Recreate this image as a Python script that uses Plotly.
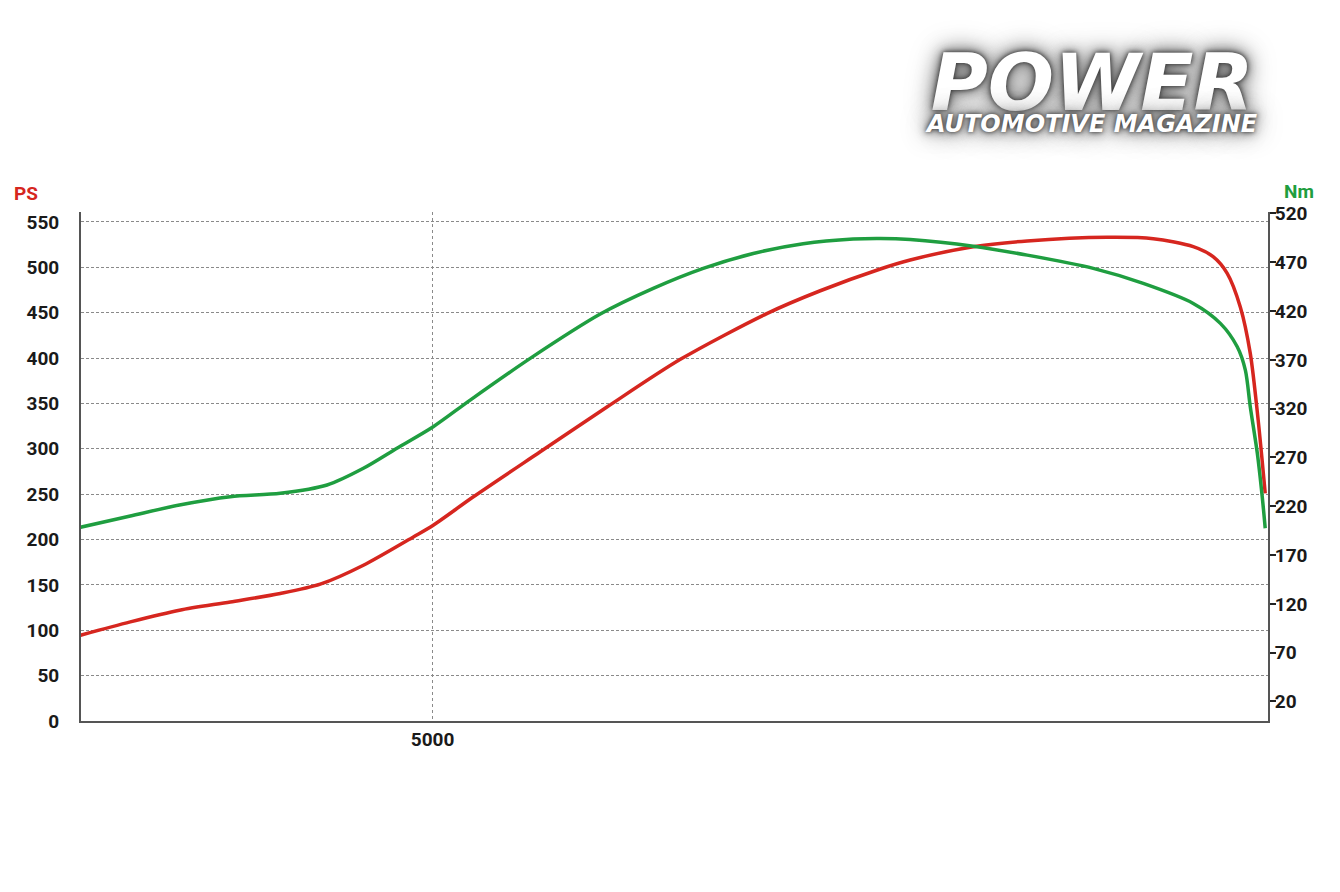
import plotly.graph_objects as go

# ---- data ----
rpm_power = [3351, 3585, 3815, 4053, 4287, 4474, 4676, 4910, 5003, 5191, 5504, 5818,
             6160, 6567, 6815, 7096, 7236, 7531, 7784, 8158, 8374, 8561, 8654, 8720,
             8781, 8828, 8865, 8898]
power_ps = [94.5, 109.2, 122.1, 131.2, 140.5, 150.8, 171.7, 202.9, 215.8, 247.1, 296.7, 346.3,
            398.6, 449.3, 474.2, 498.2, 508.1, 522.8, 529.1, 533.1, 531.6, 522.8, 511.7, 493.4,
            456.6, 405.2, 331.6, 250.8]

rpm_torque = [3351, 3585, 3815, 4053, 4287, 4506, 4676, 4833, 5003, 5176, 5457, 5785,
              6033, 6267, 6501, 6735, 6969, 7096, 7236, 7531, 7784, 8093, 8327, 8561,
              8688, 8767, 8805, 8828, 8861, 8884, 8898]
torque_nm = [198.5, 210.1, 221.3, 229.8, 233.3, 241.8, 258.9, 279.4, 301.5, 328.8, 371.5, 416.9,
             443.2, 463.7, 479.0, 489.0, 493.8, 494.4, 493.3, 486.5, 477.3, 463.7, 448.3, 427.8,
             407.4, 383.4, 359.5, 322.0, 274.3, 229.8, 197.5]

ps_ticks = [0, 50, 100, 150, 200, 250, 300, 350, 400, 450, 500, 550]
nm_ticks = [20, 70, 120, 170, 220, 270, 320, 370, 420, 470, 520]
rpm_ticks = [5000]

RED = "#d6261f"
GREEN = "#1f9e40"
AXIS = "#555555"
GRID = "#8a8a8a"
FAM = "Roboto, Liberation Sans, sans-serif"
TICKFONT = dict(family=FAM, size=19, color="#1a1a1a", weight="bold")

fig = go.Figure()
fig.add_trace(go.Scatter(x=rpm_torque, y=torque_nm, mode="lines", yaxis="y2",
                         line=dict(color=GREEN, width=3.5, shape="spline", smoothing=0.8),
                         name="Nm", showlegend=False))
fig.add_trace(go.Scatter(x=rpm_power, y=power_ps, mode="lines", yaxis="y",
                         line=dict(color=RED, width=3.5, shape="spline", smoothing=0.8),
                         name="PS", showlegend=False))

logo_text = ('<span style="font-size:78px">POWER</span><br>'
             '<span style="font-size:24px">AUTOMOTIVE MAGAZINE</span>')

fig.update_layout(
    width=1340, height=892, autosize=False,
    margin=dict(l=73, r=80, t=204, b=179),
    paper_bgcolor="white", plot_bgcolor="white",
    xaxis=dict(range=[3354, 8911], tickvals=rpm_ticks, ticktext=[str(v) for v in rpm_ticks],
               showgrid=True, gridcolor=GRID, griddash="dot", gridwidth=1,
               showline=True, linecolor=AXIS, linewidth=2, ticks="", zeroline=False,
               tickfont=TICKFONT, ticklabelstandoff=0),
    yaxis=dict(range=[0, 561], tickvals=ps_ticks, ticktext=[str(v) for v in ps_ticks],
               showgrid=True, gridcolor=GRID, griddash="3px,2px", gridwidth=1,
               showline=True, linecolor=AXIS, linewidth=2, ticks="", zeroline=False,
               tickfont=TICKFONT, ticklabelstandoff=16),
    yaxis2=dict(range=[0, 521.5], tickvals=nm_ticks, ticktext=[str(v) for v in nm_ticks],
                overlaying="y", side="right", showgrid=False,
                showline=True, linecolor=AXIS, linewidth=2, zeroline=False,
                ticks="outside", ticklen=6, tickwidth=2, tickcolor="#222222",
                tickfont=TICKFONT, ticklabelstandoff=-5),
    annotations=[
        dict(text="PS", xref="paper", yref="paper", x=-0.0463, y=1.037,
             showarrow=False, xanchor="center", yanchor="middle",
             font=dict(family=FAM, size=19, color=RED, weight="bold")),
        dict(text="Nm", xref="paper", yref="paper", x=1.0261, y=1.040,
             showarrow=False, xanchor="center", yanchor="middle",
             font=dict(family=FAM, size=19, color=GREEN, weight="bold")),
        dict(text=logo_text, xref="paper", yref="paper", x=0.851, y=1.244,
             showarrow=False, xanchor="center", yanchor="middle", align="center",
             font=dict(family="DejaVu Sans", size=17, color="white", weight="bold",
                       style="italic",
                       shadow="0px 0px 4px #333333, 0px 0px 10px #555555, 0px 0px 20px #777777, 0px 0px 30px #aaaaaa")),
    ],
)

fig.write_html("out.html")
